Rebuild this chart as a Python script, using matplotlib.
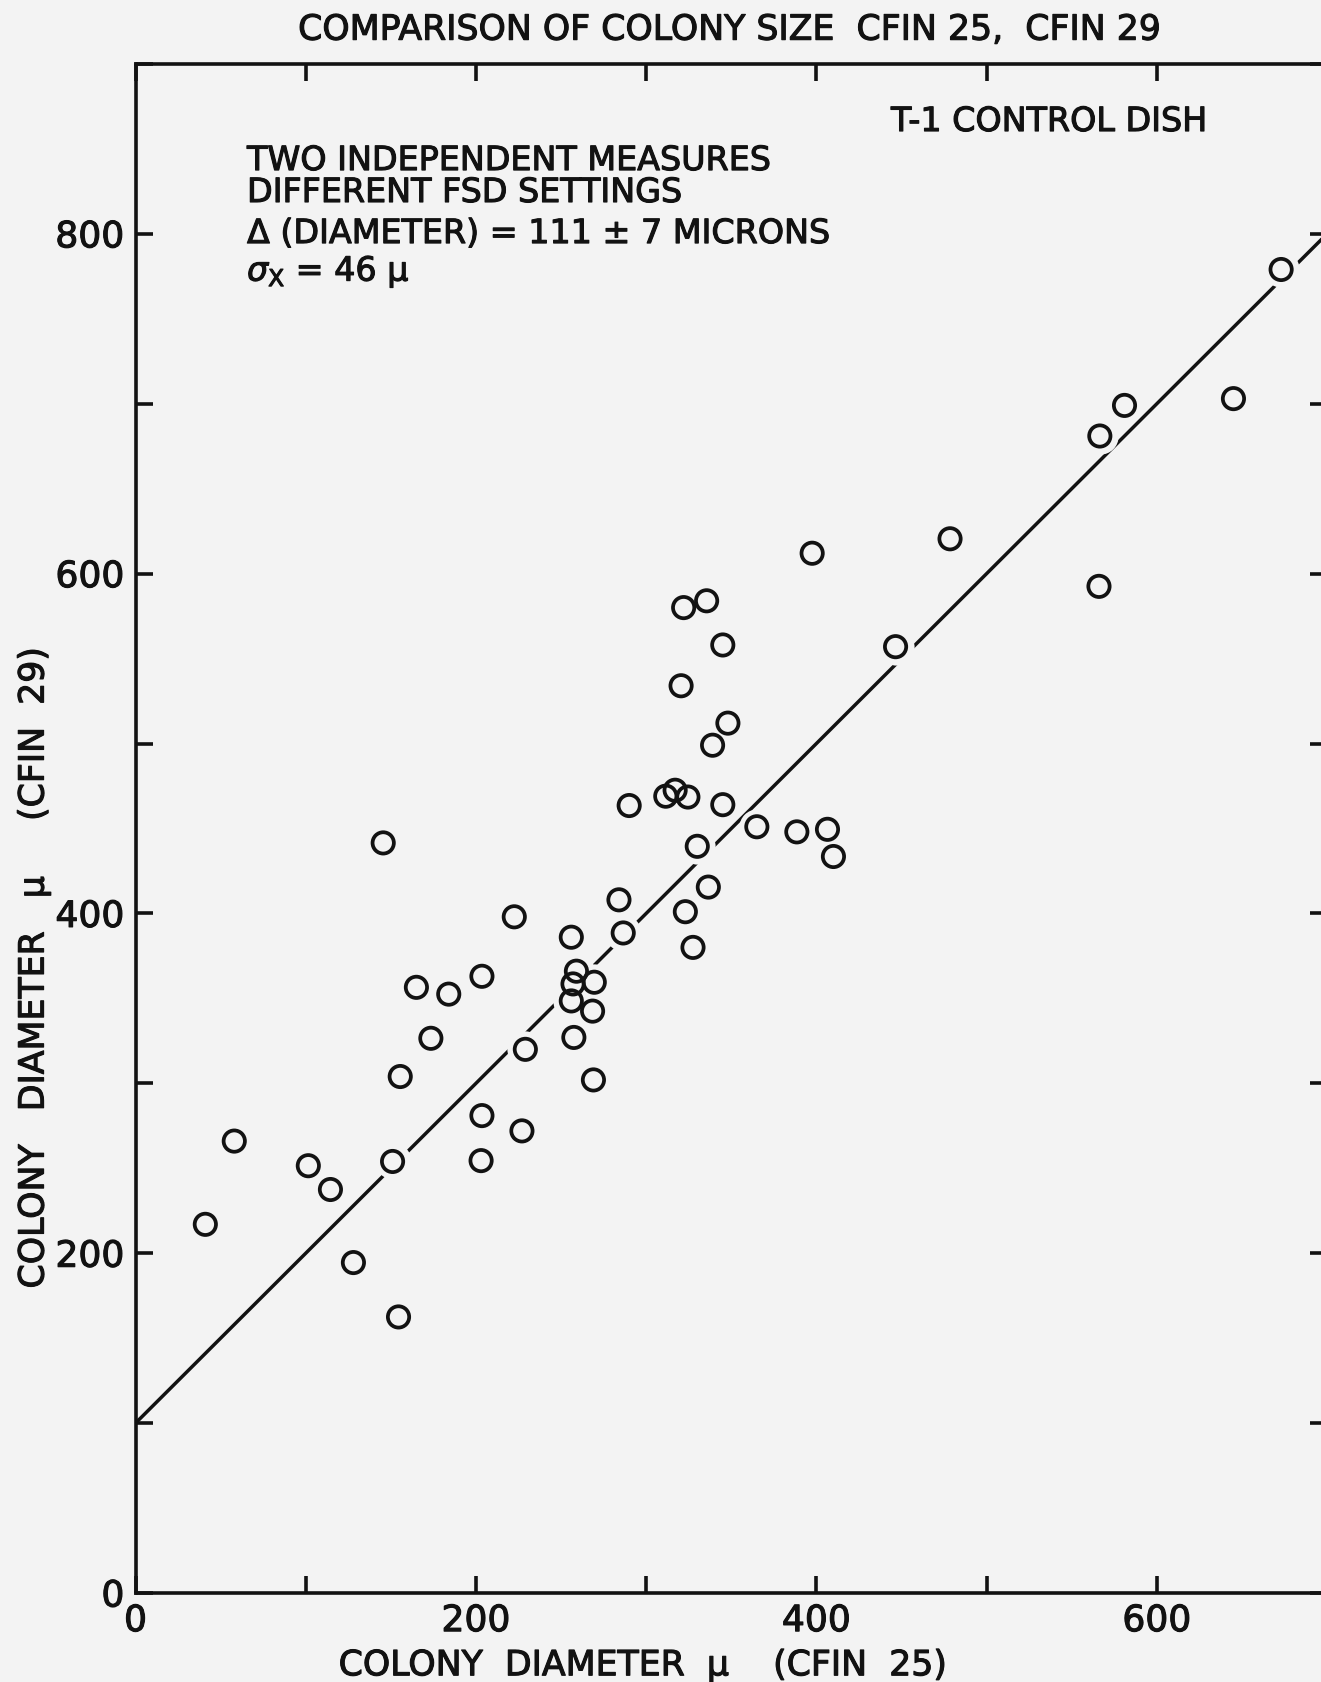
import numpy as np
import matplotlib
matplotlib.use("Agg")
import matplotlib.pyplot as plt
import matplotlib.patheffects as pe
from matplotlib.ticker import MultipleLocator, FuncFormatter

# ---- data ----
cfin25 = [41, 58, 101.5, 114.5, 128, 154.5, 151, 155.5, 145.5, 165, 173.5, 184,
          203, 203.5, 203.5, 222.5, 227, 229, 256, 259, 257, 269.5, 256, 268.5,
          257.5, 269, 284, 286.5, 290, 311.5, 317, 324.5, 322, 335.5, 345, 320.5,
          348, 339, 345, 365, 388.5, 406.5, 410, 330, 336.5, 323, 327.5, 397.5,
          446.5, 478.5, 566, 566.5, 581, 645, 673]
cfin29 = [217, 266, 251.5, 237.5, 194.5, 162.5, 254, 304, 441.5, 356.5, 326.5, 352.5,
          254.5, 281, 363, 398, 272, 320, 386, 366, 358.5, 359.5, 348.5, 342.5,
          327, 302, 408, 388.5, 463.5, 469, 472.5, 468.5, 580, 584, 558, 534,
          512, 499, 464, 451, 448, 449.5, 433.5, 439.5, 415.5, 401, 380, 612,
          557, 620.5, 592.5, 681, 699, 703, 779]
fit_intercept = 100.0
fit_slope = 1.0
x_range = [0, 700]
y_range = [0, 900]
tick_step = 100
label_step = 200

title = "COMPARISON OF COLONY SIZE  CFIN 25,  CFIN 29"
note_right = "T-1 CONTROL DISH"
note_lines = ["TWO INDEPENDENT MEASURES",
              "DIFFERENT FSD SETTINGS",
              "\u0394 (DIAMETER) = 111 \u00b1 7 MICRONS",
              "$\\sigma_{\\mathrm{X}}$ = 46 \u03bc"]
xlabel = "COLONY  DIAMETER  \u03bc    (CFIN  25)"
ylabel = "COLONY   DIAMETER   \u03bc     (CFIN  29)"

# ---- style ----
BG = "#f3f3f3"
INK = "#121212"
plt.rcParams["font.family"] = ["DejaVu Sans"]
plt.rcParams["mathtext.fontset"] = "dejavusans"
heavy = [pe.withStroke(linewidth=0.8, foreground=INK)]

fig = plt.figure(figsize=(13.21, 16.82), dpi=100, facecolor=BG)
ax = fig.add_axes([0.1026, 0.0529, 0.902, 0.9091], facecolor=BG)
ax.set_xlim(*x_range)
ax.set_ylim(*y_range)

xs = np.array(x_range, dtype=float)
ax.plot(xs, fit_intercept + fit_slope * xs, color=INK, lw=2.5, zorder=2,
        solid_capstyle="butt")
# background halos break the fit line around each circle
ax.scatter(cfin25, cfin29, s=680, c=BG, linewidths=0, zorder=3)
ax.scatter(cfin25, cfin29, s=235, facecolors="none", edgecolors=INK,
           linewidths=2.7, zorder=4)

for sp in ax.spines.values():
    sp.set_linewidth(2.6)
    sp.set_color(INK)
    sp.set_zorder(5)

fmt = FuncFormatter(lambda v, p: f"{int(round(v))}" if round(v) % label_step == 0 else "")
for axis in (ax.xaxis, ax.yaxis):
    axis.set_major_locator(MultipleLocator(tick_step))
    axis.set_major_formatter(fmt)
ax.tick_params(which="major", direction="in", length=12, width=2.6,
               top=True, right=True, labelsize=26, pad=8,
               color=INK, labelcolor=INK)
for lab in ax.get_xticklabels() + ax.get_yticklabels():
    lab.set_path_effects(heavy)

fig.text(0.5525, 0.9764, title, ha="center", va="baseline", fontsize=25,
         color=INK, path_effects=heavy)
fig.text(0.6745, 0.9221, note_right, ha="left", va="baseline", fontsize=24,
         color=INK, path_effects=heavy)
for txt, yb in zip(note_lines, [0.8989, 0.8799, 0.8555, 0.8330]):
    fig.text(0.187, yb, txt, ha="left", va="baseline", fontsize=24, color=INK,
             path_effects=heavy)
fig.text(0.4864, 0.0040, xlabel, ha="center", va="baseline", fontsize=25,
         color=INK, path_effects=heavy)
fig.text(0.0330, 0.4245, ylabel, ha="center", va="baseline", fontsize=25,
         color=INK, rotation=90, rotation_mode="anchor", path_effects=heavy)

fig.savefig("out.png", dpi=100, facecolor=BG)
